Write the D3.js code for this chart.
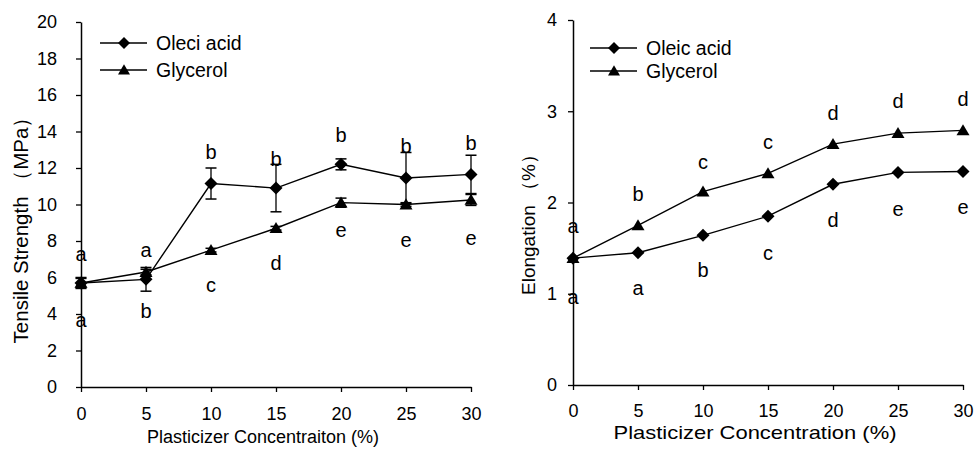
<!DOCTYPE html>
<html>
<head>
<meta charset="utf-8">
<script src="https://cdn.jsdelivr.net/npm/d3@7"></script>
<style>
  body { margin: 0; background: #fff; }
  svg text { font-family: "Liberation Sans", Arial, sans-serif; fill: #000; }
</style>
</head>
<body>
<div id="chart"></div>
<script>
// plasticizer concentration (%)
var conc = [0, 5, 10, 15, 20, 25, 30]

// tensile strength (MPa)
var tsOleic = [5.7, 5.9, 11.15, 10.9, 12.2, 11.45, 11.65]
var tsOleicErr = [0.3, 0.65, 0.85, 1.3, 0.3, 1.4, 1.05]
var tsGly = [5.7, 6.3, 7.5, 8.7, 10.1, 10.0, 10.25]
var tsGlyErr = [0.25, 0.15, 0.1, 0.1, 0.25, 0.1, 0.3]
var tsOleicLetters = ['a', 'a', 'b', 'b', 'b', 'b', 'b']
var tsOleicLetterAt = [7.3, 7.5, 12.9, 12.5, 13.8, 13.2, 13.4]
var tsGlyLetters = ['a', 'b', 'c', 'd', 'e', 'e', 'e']
var tsGlyLetterAt = [3.7, 4.2, 5.6, 6.8, 8.6, 8.05, 8.2]

// elongation (%)
var elOleic = [1.39, 1.45, 1.64, 1.85, 2.2, 2.33, 2.34]
var elGly = [1.39, 1.75, 2.12, 2.32, 2.64, 2.76, 2.79]
var elOleicLetters = ['a', 'a', 'b', 'c', 'd', 'e', 'e']
var elOleicLetterAt = [0.97, 1.06, 1.26, 1.45, 1.81, 1.93, 1.95]
var elGlyLetters = ['a', 'b', 'c', 'c', 'd', 'd', 'd']
var elGlyLetterAt = [1.75, 2.1, 2.45, 2.67, 2.98, 3.12, 3.14]

var svg = d3.select('#chart').append('svg')
  .attr('width', 975)
  .attr('height', 449)

function diamond(r) {
  return 'M0,' + (-r) + 'L' + r + ',0L0,' + r + 'L' + (-r) + ',0Z'
}
function triangle(r) {
  return 'M0,' + (-r * 0.95) + 'L' + r + ',' + (r * 0.75) + 'L' + (-r) + ',' + (r * 0.75) + 'Z'
}

function drawPanel(opt) {
  var g = svg.append('g')
  var x = d3.scaleLinear().domain([0, 30]).range([opt.x0, opt.x1])
  var y = d3.scaleLinear().domain([0, opt.ymax]).range([opt.y0, opt.y1])

  // axes
  var xAxis = g.append('g')
    .attr('transform', 'translate(0,' + opt.y0 + ')')
    .call(d3.axisBottom(x).tickValues(conc).tickSize(5).tickSizeOuter(0).tickPadding(opt.xPad))
  var yAxis = g.append('g')
    .attr('transform', 'translate(' + opt.x0 + ',0)')
    .call(d3.axisLeft(y).tickValues(opt.yTicks).tickFormat(d3.format('d'))
      .tickSize(5).tickSizeOuter(0).tickPadding(opt.yPad))
  ;[xAxis, yAxis].forEach(function(a) {
    a.selectAll('.domain').attr('stroke', '#000').attr('stroke-width', 1.5)
    a.selectAll('.tick line').attr('stroke', '#000').attr('stroke-width', 1.3)
    a.selectAll('.tick text').attr('font-size', 18).attr('font-family', '"Liberation Sans", Arial, sans-serif').attr('fill', '#000')
  })

  var line = d3.line().x(function(d, i) { return x(conc[i]) }).y(function(d) { return y(d) })

  opt.series.forEach(function(s) {
    // error bars
    if (s.err) {
      s.values.forEach(function(v, i) {
        var cx = x(conc[i])
        var top = y(v + s.err[i]), bot = y(v - s.err[i])
        g.append('line').attr('x1', cx).attr('x2', cx).attr('y1', top).attr('y2', bot)
          .attr('stroke', '#000').attr('stroke-width', 1.3)
        ;[top, bot].forEach(function(yy) {
          g.append('line').attr('x1', cx - 5.5).attr('x2', cx + 5.5).attr('y1', yy).attr('y2', yy)
            .attr('stroke', '#000').attr('stroke-width', 1.5)
        })
      })
    }
    g.append('path').datum(s.values).attr('d', line)
      .attr('fill', 'none').attr('stroke', '#000').attr('stroke-width', 1.4)
    g.selectAll(null).data(s.values).enter().append('path')
      .attr('transform', function(d, i) { return 'translate(' + x(conc[i]) + ',' + y(d) + ')' })
      .attr('d', s.shape(6.5))
      .attr('fill', '#000')
    // significance letters
    g.selectAll(null).data(s.letters).enter().append('text')
      .attr('x', function(d, i) { return x(conc[i]) })
      .attr('y', function(d, i) { return y(s.letterAt[i]) })
      .attr('dy', '0.36em')
      .attr('text-anchor', 'middle')
      .attr('font-size', 20)
      .text(function(d) { return d })
  })

  // legend
  opt.series.forEach(function(s, i) {
    var ly = opt.legY[i]
    g.append('line').attr('x1', opt.legX).attr('x2', opt.legX + 47).attr('y1', ly).attr('y2', ly)
      .attr('stroke', '#000').attr('stroke-width', 1.4)
    g.append('path').attr('transform', 'translate(' + (opt.legX + 24) + ',' + ly + ')')
      .attr('d', s.shape(6)).attr('fill', '#000')
    g.append('text').attr('x', opt.legX + 56).attr('y', ly).attr('dy', '0.36em')
      .attr('font-size', 19.5).text(s.name)
  })

  // axis titles (the source image is a bit stretched sideways)
  g.append('text')
    .attr('transform', 'translate(' + opt.xTitleX + ',' + opt.xTitleY + ') scale(' + opt.xTitleStretch + ',1)')
    .attr('text-anchor', 'middle').attr('font-size', 18).text(opt.xTitle)
  g.append('text')
    .attr('transform', 'translate(' + opt.yTitleX + ',' + opt.yTitleY + ') rotate(-90)')
    .attr('text-anchor', 'middle').attr('font-size', opt.yTitleSize).text(opt.yTitle)
}

drawPanel({
  x0: 81, x1: 471, y0: 387, y1: 22, ymax: 20,
  yTicks: d3.range(0, 21, 2), xPad: 15, yPad: 19,
  legX: 100, legY: [43, 70],
  xTitle: 'Plasticizer Concentraiton (%)', xTitleX: 263, xTitleY: 443, xTitleStretch: 1,
  yTitle: 'Tensile  Strength  （MPa）', yTitleX: 28, yTitleY: 225, yTitleSize: 20.5,
  series: [
    {name: 'Oleci acid', values: tsOleic, err: tsOleicErr, shape: diamond, letters: tsOleicLetters, letterAt: tsOleicLetterAt},
    {name: 'Glycerol', values: tsGly, err: tsGlyErr, shape: triangle, letters: tsGlyLetters, letterAt: tsGlyLetterAt}
  ]
})

drawPanel({
  x0: 573, x1: 963, y0: 385, y1: 20, ymax: 4,
  yTicks: [0, 1, 2, 3, 4], xPad: 14, yPad: 11,
  legX: 590, legY: [48, 71],
  xTitle: 'Plasticizer Concentration (%)', xTitleX: 755, xTitleY: 439, xTitleStretch: 1.22,
  yTitle: 'Elongation （%）', yTitleX: 535, yTitleY: 220, yTitleSize: 19,
  series: [
    {name: 'Oleic acid', values: elOleic, shape: diamond, letters: elOleicLetters, letterAt: elOleicLetterAt},
    {name: 'Glycerol', values: elGly, shape: triangle, letters: elGlyLetters, letterAt: elGlyLetterAt}
  ]
})
</script>
</body>
</html>
